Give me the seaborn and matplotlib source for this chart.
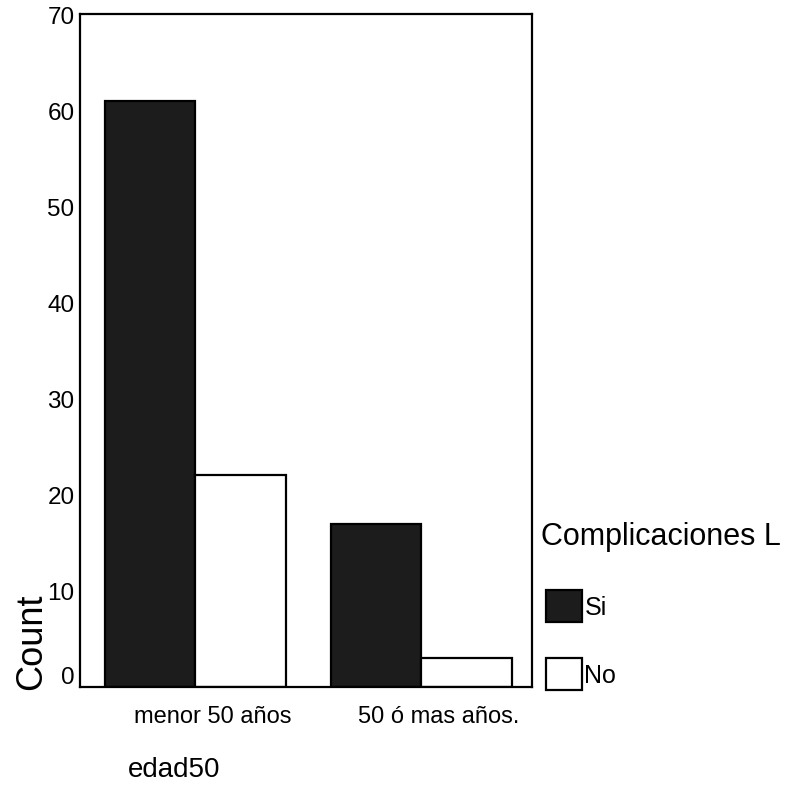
import matplotlib
matplotlib.use("Agg")
import matplotlib.pyplot as plt
import matplotlib.transforms as mtransforms
from matplotlib.patches import Patch
import seaborn as sns
import pandas as pd

# Counts by age group and complication status
age_groups = ["menor 50 años", "50 ó mas años."]
complicaciones = ["Si", "No"]
count_si = [61, 17]
count_no = [22, 3]
y_ticks = [0, 10, 20, 30, 40, 50, 60, 70]

df = pd.DataFrame({
    "edad50": age_groups * 2,
    "Complicaciones L": ["Si"] * len(age_groups) + ["No"] * len(age_groups),
    "Count": count_si + count_no,
})

sns.set_theme(style="white")
plt.rcParams["font.family"] = ["Liberation Sans", "DejaVu Sans"]
plt.rcParams.update({
    "text.color": "black",
    "axes.labelcolor": "black",
    "xtick.color": "black",
    "ytick.color": "black",
})

colors = {"Si": "#1c1c1c", "No": "#ffffff"}

fig = plt.figure(figsize=(7.9, 8.04), dpi=100)
ax = fig.add_axes([80 / 790, 1 - 688 / 804, (532 - 80) / 790, (688 - 15) / 804])

sns.barplot(data=df, x="edad50", y="Count", hue="Complicaciones L",
            hue_order=complicaciones, order=age_groups, palette=colors,
            width=0.8, edgecolor="black", linewidth=1.6, saturation=1,
            legend=False, ax=ax)

ax.set_xlim(-0.51, 1.49)
ax.set_ylim(0, 70)
ax.set_yticks(y_ticks)
ax.set_yticklabels([str(v) for v in y_ticks], fontsize=17.5)
ax.set_xticks(range(len(age_groups)))
ax.set_xticklabels(age_groups, fontsize=17)
ax.tick_params(axis="y", direction="out", length=3, width=3, pad=1, color="black")
ax.tick_params(axis="x", direction="out", length=4, width=3, pad=9, color="black")

# lift the zero label off the baseline
zero_lbl = ax.get_yticklabels()[0]
zero_lbl.set_transform(zero_lbl.get_transform() +
                       mtransforms.ScaledTranslation(0, 12 / 100, fig.dpi_scale_trans))
# category labels sit a little right of their ticks
for lbl in ax.get_xticklabels():
    lbl.set_transform(lbl.get_transform() +
                      mtransforms.ScaledTranslation(17 / 100, 0, fig.dpi_scale_trans))

for side in ["left", "right", "top", "bottom"]:
    ax.spines[side].set_visible(True)
    ax.spines[side].set_color("black")
    ax.spines[side].set_linewidth(1.6)

ax.set_xlabel("")
ax.set_ylabel("")

fig.text(32 / 790, 1 - 642 / 804, "Count", rotation=90, fontsize=26,
         ha="center", va="center")
fig.text(128 / 790, 1 - 770 / 804, "edad50", fontsize=20, ha="left", va="center")

# legend
fig.text(541 / 790, 1 - 537 / 804, "Complicaciones L", fontsize=22,
         ha="left", va="center")
handles = [Patch(facecolor=colors[c], edgecolor="black", linewidth=1.6)
           for c in complicaciones]
fig.legend(handles, complicaciones, loc="upper left",
           bbox_to_anchor=(546 / 790, 1 - 591 / 804), frameon=False,
           fontsize=18, handlelength=1.44, handleheight=1.59,
           handletextpad=0.1, labelspacing=1.44, borderpad=0, borderaxespad=0)

fig.savefig("out.png", dpi=100, facecolor="white")
